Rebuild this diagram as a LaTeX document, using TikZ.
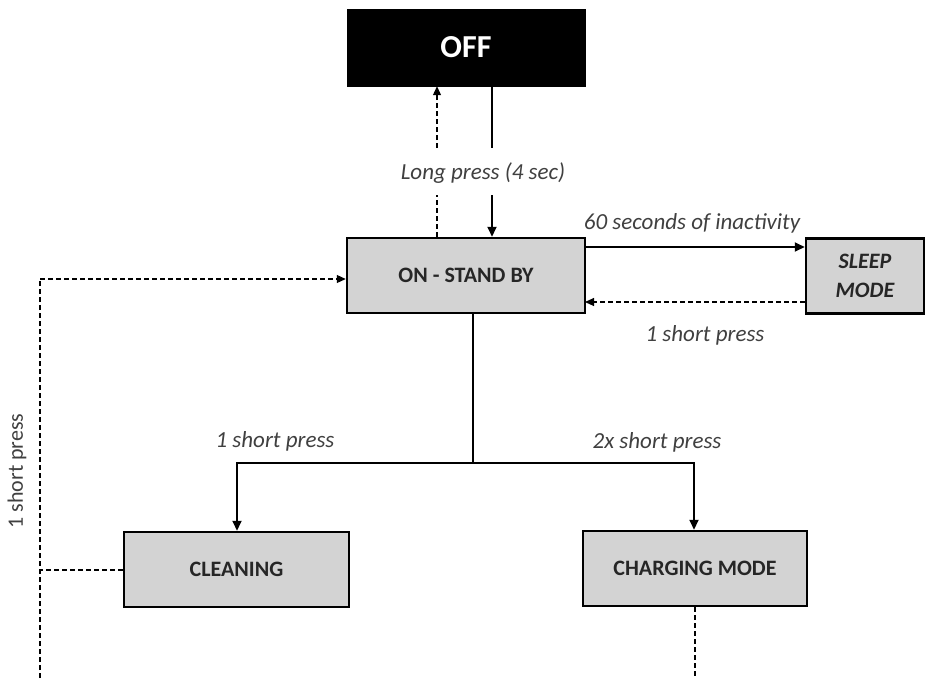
\documentclass[tikz,border=0pt]{standalone}
\usepackage{fontspec}
\setmainfont{Carlito}
\usetikzlibrary{arrows.meta,calc}
\definecolor{boxgray}{HTML}{D3D3D3}
\definecolor{txt}{HTML}{262626}
\definecolor{lbl}{HTML}{404040}
\begin{document}
\begin{tikzpicture}[x=1pt,y=-1pt,
  state/.style={draw=black,line width=2.5pt,fill=boxgray,minimum width=#1,minimum height=75pt,inner sep=0pt,
     font=\fontsize{22}{26}\selectfont\bfseries,text=txt,align=center},
  offbox/.style={draw=black,fill=black,minimum width=238pt,minimum height=77pt,inner sep=0pt,
     font=\fontsize{32}{36}\selectfont\bfseries,text=white},
  lab/.style={font=\fontsize{23}{26}\selectfont\itshape,text=lbl,inner sep=0pt},
  solidc/.style={line width=1.8pt,-{Triangle[length=10pt,width=9pt]}},
  plain/.style={line width=1.8pt},
  dashc/.style={line width=1.1pt,dash pattern=on 5pt off 3pt,-{Triangle[length=9pt,width=8pt]}},
  dashp/.style={line width=1.1pt,dash pattern=on 5pt off 3pt}]
\useasboundingbox (0,0) rectangle (925,678);
\fill[white] (0,0) rectangle (925,678);

\node[offbox] (off) at (466,47.5) {OFF};
\node[state=238pt] (on) at (466,275.5) {ON - STAND BY};
\node[state=118pt,font=\fontsize{22}{29}\selectfont\bfseries\itshape] (sleep) at (865,276) {SLEEP\\MODE};
\node[state=225pt] (clean) at (236.5,569.5) {CLEANING};
\node[state=224pt] (charge) at (695,568.5) {CHARGING MODE};

% OFF <-> ON
\node[lab] (lp) at (483,173) {Long press (4 sec)};
\coordinate (a1) at (492,148);
\coordinate (a2) at (492,195);
\coordinate (d1) at (437,148);
\coordinate (d2) at (437,195);
\draw[plain] (off.south -| a1) -- (a1);
\draw[solidc] (a2) -- (on.north -| a2);
\draw[dashc] (d1) -- (off.south -| d1);
\draw[dashp] (on.north -| d2) -- (d2);

% ON <-> SLEEP
\coordinate (s1) at (585,247);
\coordinate (s2) at (585,302);
\draw[solidc] (s1) -- (sleep.west |- s1);
\node[lab] (sx) at (692,223) {60 seconds of inactivity};
\draw[dashc] (sleep.west |- s2) -- (s2);
\node[lab] (sp) at (705,335) {1 short press};

% ON -> CLEANING / CHARGING
\coordinate (j) at (473,463);
\coordinate (cl) at (237,463);
\coordinate (ch) at (694,463);
\draw[plain] (on.south -| j) -- (j);
\draw[solidc] (j) -- (cl) -- (clean.north -| cl);
\draw[solidc] (j) -- (ch) -- (charge.north -| ch);
\node[lab] (l1) at (275,441) {1 short press};
\node[lab] (l2) at (657,442) {2x short press};

% left dashed return
\coordinate (lt) at (40,279);
\coordinate (lb) at (40,678);
\coordinate (lm) at (40,570);
\draw[dashp] (lb) -- (lt);
\draw[dashc] (lt) -- (on.west |- lt);
\draw[dashp] (clean.west |- lm) -- (lm);
\node[font=\fontsize{22}{26}\selectfont,text=lbl,rotate=90,inner sep=0pt] (rl) at (17,471) {1 short press};

% charging bottom
\coordinate (cb) at (695,678);
\draw[dashp] (charge.south -| cb) -- (cb);
\end{tikzpicture}
\end{document}
